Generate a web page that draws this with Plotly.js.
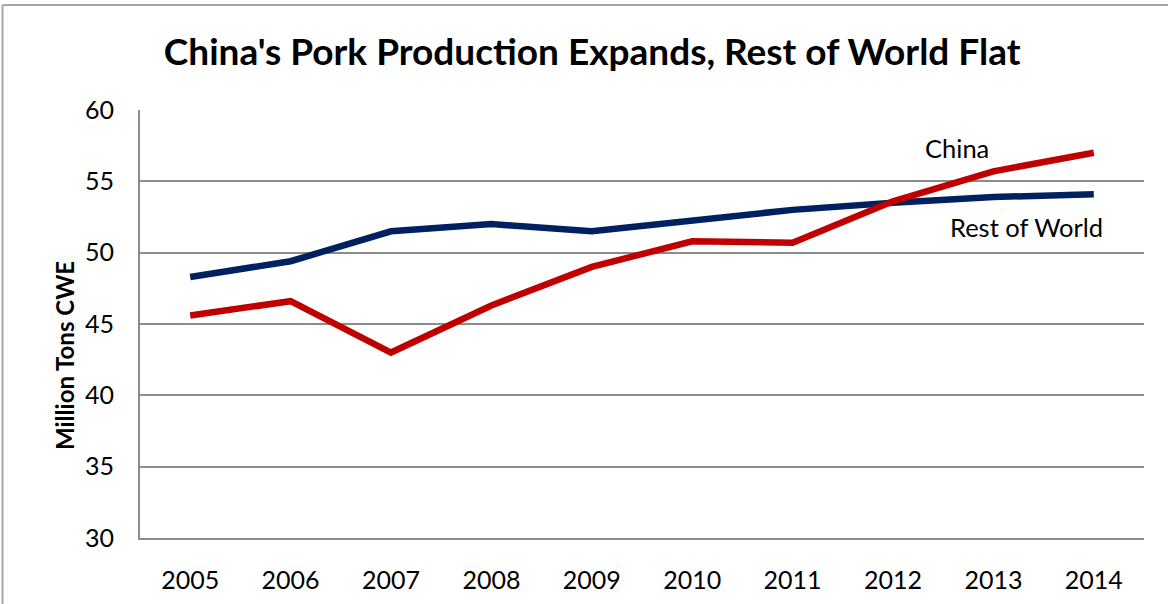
<!DOCTYPE html>
<html>
<head>
<meta charset="utf-8">
<script src="https://cdn.plot.ly/plotly-3.0.1.min.js"></script>
<style>
  html, body { margin: 0; padding: 0; background: #ffffff; }
  #chart { width: 1168px; height: 604px; }
</style>
</head>
<body>
<div id="chart"></div>
<script>
const years = ['2005', '2006', '2007', '2008', '2009', '2010', '2011', '2012', '2013', '2014'];
const china = [45.6, 46.6, 43.0, 46.3, 49.0, 50.8, 50.7, 53.6, 55.7, 57.0];
const restOfWorld = [48.3, 49.4, 51.5, 52.0, 51.5, 52.3, 53.0, 53.5, 53.9, 54.1];
const yTicks = [30, 35, 40, 45, 50, 55, 60];

const FONT = 'Lato, "Open Sans", sans-serif';
const grey = '#8c8c8c';

const traces = [
  {
    x: years, y: restOfWorld, type: 'scatter', mode: 'lines', name: 'Rest of World',
    line: { color: '#002060', width: 6.5 }
  },
  {
    x: years, y: china, type: 'scatter', mode: 'lines', name: 'China',
    line: { color: '#C00000', width: 6.5 }
  }
];

const L = 140, R = 1144, T = 110, B = 538;
const px = v => (v - L) / (R - L);
const py = v => (B - v) / (B - T);

const layout = {
  width: 1168, height: 604,
  margin: { l: L, r: 1168 - R, t: T, b: 604 - B, pad: 0 },
  paper_bgcolor: '#ffffff', plot_bgcolor: '#ffffff',
  showlegend: false,
  font: { family: FONT, color: '#000000' },
  title: {
    text: "<b>China's Pork Production Expands, Rest of World Flat</b>",
    font: { family: FONT, size: 37, color: '#000000' },
    x: 0.507, xanchor: 'center', y: 0.913, yanchor: 'middle'
  },
  xaxis: {
    type: 'category', range: [-0.5, 9.5],
    showgrid: false, zeroline: false,
    showline: true, linecolor: grey, linewidth: 2,
    ticks: '', tickfont: { family: FONT, size: 25, color: '#000' },
    ticklabelstandoff: 19, fixedrange: true
  },
  yaxis: {
    range: [30, 60], tickvals: yTicks, ticktext: yTicks.map(String),
    showgrid: true, gridcolor: grey, gridwidth: 2,
    zeroline: false, showline: true, linecolor: grey, linewidth: 2,
    ticks: '', tickfont: { family: FONT, size: 25, color: '#000' },
    ticklabelstandoff: 19,
    fixedrange: true
  },
  annotations: [
    { x: px(64), y: py(356), xref: 'paper', yref: 'paper', text: '<b>Million Tons CWE</b>', textangle: -90,
      showarrow: false, font: { family: FONT, size: 24, color: '#000' }, xanchor: 'center', yanchor: 'middle' },
    { x: 7.64, y: 57.35, xref: 'x', yref: 'y', text: 'China', showarrow: false,
      font: { family: FONT, size: 25.5, color: '#000' }, xanchor: 'center', yanchor: 'middle' },
    { x: 8.33, y: 51.77, xref: 'x', yref: 'y', text: 'Rest of World', showarrow: false,
      font: { family: FONT, size: 25.5, color: '#000' }, xanchor: 'center', yanchor: 'middle' }
  ],
  shapes: [
    { type: 'line', xref: 'paper', yref: 'paper', x0: px(2.5), x1: px(2.5), y0: py(5), y1: py(610),
      line: { color: '#a6a6a6', width: 2 } },
    { type: 'line', xref: 'paper', yref: 'paper', x0: px(2.5), x1: px(1170), y0: py(5), y1: py(5),
      line: { color: '#a6a6a6', width: 2 } }
  ]
};

Plotly.newPlot('chart', traces, layout, { displayModeBar: false, staticPlot: true });
</script>
</body>
</html>
